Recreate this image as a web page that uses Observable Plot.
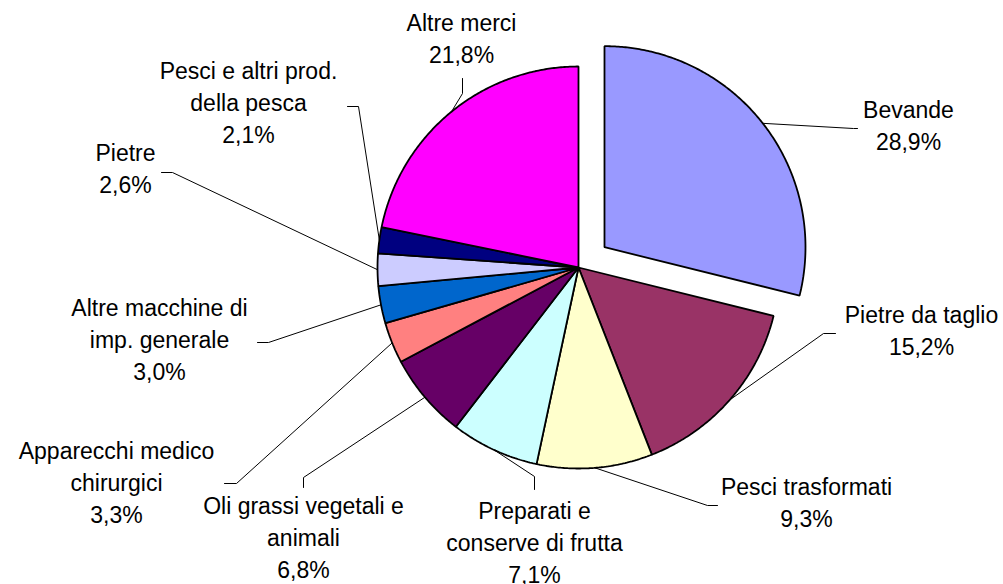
<!DOCTYPE html>
<html><head><meta charset="utf-8">
<script src="https://cdn.jsdelivr.net/npm/d3@7"></script>
<script src="https://cdn.jsdelivr.net/npm/@observablehq/plot@0.6"></script>
<style>html,body{margin:0;padding:0;background:#fff;overflow:hidden}</style>
</head><body><div id="chart"></div>
<script>
// ---- data ----
const categories = ["Bevande", "Pietre da taglio", "Pesci trasformati", "Preparati e\nconserve di frutta", "Oli grassi vegetali e\nanimali", "Apparecchi medico\nchirurgici", "Altre macchine di\nimp. generale", "Pietre", "Pesci e altri prod.\ndella pesca", "Altre merci"];
const shares = [28.9, 15.2, 9.3, 7.1, 6.8, 3.3, 3.0, 2.6, 2.1, 21.8];
const colors = ["#9999FF", "#993366", "#FFFFCC", "#CCFFFF", "#660066", "#FF8080", "#0066CC", "#CCCCFF", "#000080", "#FF00FF"];
const explodedCategory = "Bevande";

// ---- layout ----
const W = 1003, H = 584;
const center = [578, 267];
const radius = 201;
const explodeOffset = 33;
const labelText = [[908,126],[921,331],[806,503],[534,543],[303,538],[116,483],[159,340],[125,169],[248,103],[461,39]];
const labelStart = [[857,128],[835,333],[717,505],[534,489],[303,487],[224,483],[257,342],[161,172],[347,106],[462,78]];
const labelElbow = [[853,128],[823,333],[707,505],[534,476],[303,477],[236,483],[268,342],[172,172],[358,106],[462,93]];

const fmt = v => v.toFixed(1).replace(".", ",") + "%";
const arcs = d3.pie().sort(null).value(d => d)(shares);

const slicePts = [];
const leaderPts = [];
const labels = [];
arcs.forEach((a, i) => {
  const name = categories[i];
  const mid = (a.startAngle + a.endAngle) / 2;
  const off = name === explodedCategory ? explodeOffset : 0;
  const cx = center[0] + off * Math.sin(mid), cy = center[1] - off * Math.cos(mid);
  slicePts.push({name, color: colors[i], x: cx, y: cy});
  const n = Math.max(2, Math.ceil((a.endAngle - a.startAngle) / (Math.PI / 360)));
  for (let k = 0; k <= n; k++) {
    const t = a.startAngle + (a.endAngle - a.startAngle) * k / n;
    slicePts.push({name, color: colors[i], x: cx + radius * Math.sin(t), y: cy - radius * Math.cos(t)});
  }
  leaderPts.push({name, x: labelStart[i][0], y: labelStart[i][1]});
  leaderPts.push({name, x: labelElbow[i][0], y: labelElbow[i][1]});
  leaderPts.push({name, x: cx + radius * Math.sin(mid), y: cy - radius * Math.cos(mid)});
  labels.push({text: name + "\n" + fmt(shares[i]), x: labelText[i][0], y: labelText[i][1]});
});

const chart = Plot.plot({
  width: W, height: H,
  margin: 0,
  x: {domain: [0, W], range: [0, W], axis: null},
  y: {domain: [0, H], range: [0, H], axis: null},
  color: {type: "identity"},
  style: {background: "#fff"},
  marks: [
    Plot.line(leaderPts, {x: "x", y: "y", z: "name", stroke: "#000", strokeWidth: 1}),
    Plot.line(slicePts, {x: "x", y: "y", z: "name", fill: "color", stroke: "#000", strokeWidth: 1.8, curve: "linear-closed", strokeLinejoin: "miter"}),
    Plot.text(labels, {x: "x", y: "y", dy: -3, text: "text", fontSize: 23, fontFamily: "'Liberation Sans', Arial, sans-serif", lineHeight: 1.39, lineAnchor: "middle", textAnchor: "middle", fill: "#000"})
  ]
});
document.getElementById("chart").appendChild(chart);
</script>
</body></html>
